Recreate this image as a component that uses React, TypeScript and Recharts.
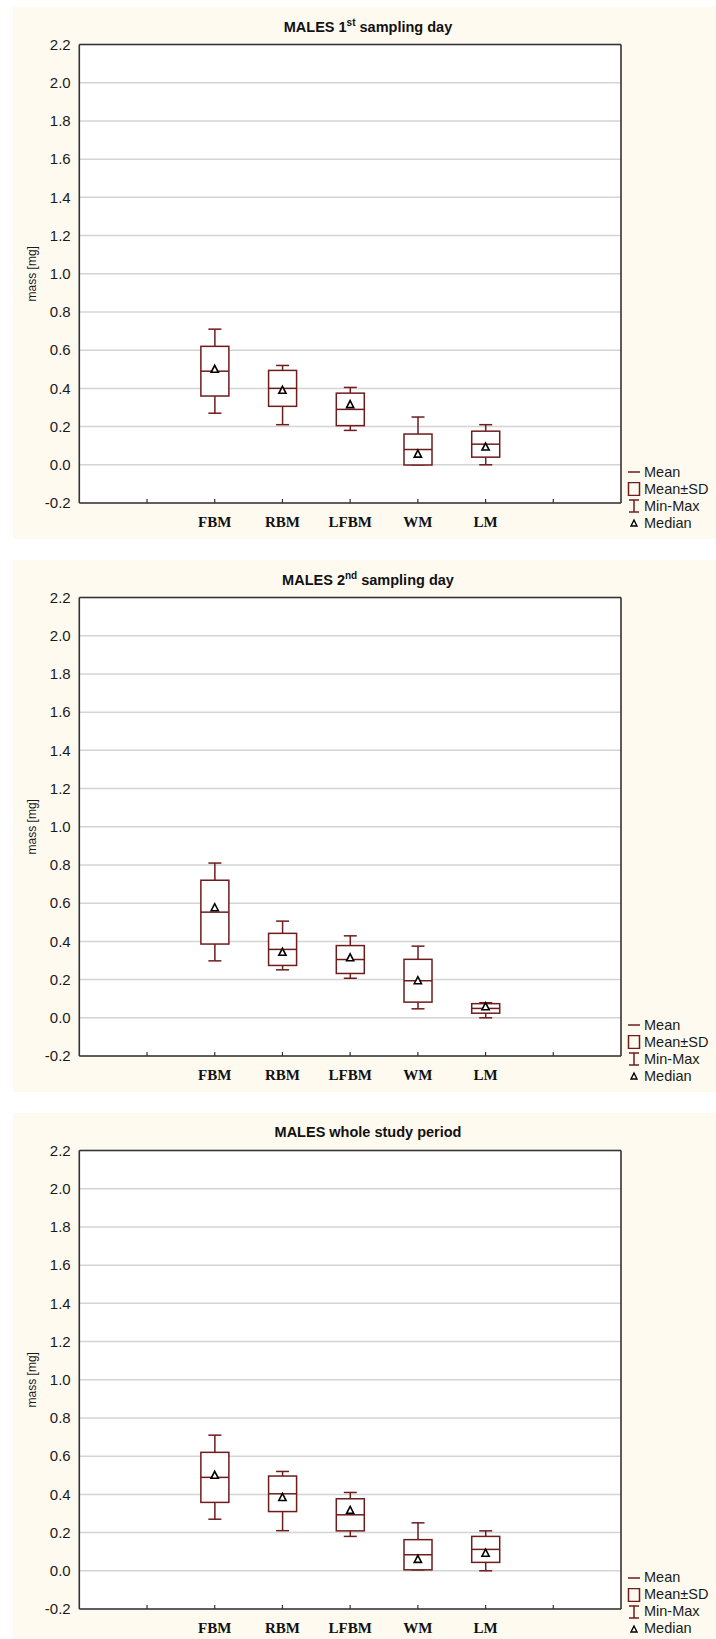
import type { ReactNode } from 'react';
import { Bar, CartesianGrid, ComposedChart, Scatter, XAxis, YAxis } from 'recharts';

const categories = ['FBM', 'RBM', 'LFBM', 'WM', 'LM'];
const yTicks = [-0.2, 0.0, 0.2, 0.4, 0.6, 0.8, 1.0, 1.2, 1.4, 1.6, 1.8, 2.0, 2.2];

// 1st sampling day
const day1Mean = [0.49, 0.4, 0.29, 0.08, 0.108];
const day1Sd = [0.13, 0.094, 0.085, 0.081, 0.068];
const day1Min = [0.27, 0.21, 0.18, 0.0, 0.0];
const day1Max = [0.71, 0.52, 0.405, 0.25, 0.21];
const day1Median = [0.5, 0.39, 0.315, 0.056, 0.093];

// 2nd sampling day
const day2Mean = [0.553, 0.358, 0.305, 0.194, 0.049];
const day2Sd = [0.167, 0.084, 0.073, 0.112, 0.025];
const day2Min = [0.298, 0.251, 0.207, 0.047, 0.0];
const day2Max = [0.81, 0.506, 0.429, 0.375, 0.079];
const day2Median = [0.576, 0.343, 0.314, 0.194, 0.058];

// whole study period
const wholeMean = [0.489, 0.403, 0.293, 0.084, 0.112];
const wholeSd = [0.131, 0.093, 0.084, 0.079, 0.068];
const wholeMin = [0.27, 0.21, 0.18, 0.005, 0.0];
const wholeMax = [0.71, 0.52, 0.41, 0.251, 0.209];
const wholeMedian = [0.5, 0.384, 0.316, 0.06, 0.092];

const CREAM = '#FEFAF0';
const BOX = '#6E1C1C';
const AXIS = '#333';
const GRID = '#D4D4D4';
const SANS = '"Liberation Sans", Arial, sans-serif';

function buildRows(mean: number[], sd: number[], min: number[], max: number[], median: number[]) {
  return [
    { name: 'padLeft' },
    ...categories.map((c, i) => ({
      name: c,
      range: [min[i], max[i]],
      mean: mean[i],
      sd: sd[i],
      median: median[i],
    })),
    { name: 'padRight' },
  ];
}

function BoxShape(props: any) {
  const { x, y, width, height, payload } = props;
  if (!payload || !payload.range || !Number.isFinite(y) || !Number.isFinite(height)) return null;
  const [lo, hi] = payload.range;
  const top = Math.min(y, y + height);
  const span = Math.abs(height);
  const py = (v: number) => top + (span * (hi - v)) / (hi - lo);
  const cx = x + width / 2;
  const boxTop = py(payload.mean + payload.sd);
  const boxBot = py(payload.mean - payload.sd);
  const meanY = py(payload.mean);
  const cap = 6.5;
  return (
    <g stroke={BOX} strokeWidth={1.5} fill="none">
      <line x1={cx} x2={cx} y1={top} y2={boxTop} />
      <line x1={cx} x2={cx} y1={boxBot} y2={top + span} />
      <line x1={cx - cap} x2={cx + cap} y1={top} y2={top} />
      <line x1={cx - cap} x2={cx + cap} y1={top + span} y2={top + span} />
      <rect x={x} y={boxTop} width={width} height={boxBot - boxTop} fill="#fff" />
      <line x1={x} x2={x + width} y1={meanY} y2={meanY} />
    </g>
  );
}

function MedianMark(props: any) {
  const { cx, cy } = props;
  if (!Number.isFinite(cx) || !Number.isFinite(cy)) return null;
  return (
    <path
      d={`M${cx},${cy - 4} L${cx + 3.6},${cy + 3} L${cx - 3.6},${cy + 3} Z`}
      fill="#fff"
      stroke="#000"
      strokeWidth={1.6}
    />
  );
}

function LegendBox() {
  const rows: [ReactNode, string][] = [
    [<line x1={1} x2={13} y1={7} y2={7} stroke={BOX} strokeWidth={1.5} />, 'Mean'],
    [<rect x={1.5} y={0.5} width={11} height={13} fill="none" stroke={BOX} strokeWidth={1.5} />, 'Mean±SD'],
    [
      <g stroke={BOX} strokeWidth={1.5}>
        <line x1={2} x2={12} y1={1} y2={1} />
        <line x1={7} x2={7} y1={1} y2={13} />
        <line x1={2} x2={12} y1={13} y2={13} />
      </g>,
      'Min-Max',
    ],
    [<path d="M7,4 L10,10 L4,10 Z" fill="#fff" stroke="#000" strokeWidth={1.4} />, 'Median'],
  ];
  return (
    <div style={{ position: 'absolute', left: 614, top: 456.5, fontFamily: SANS, fontSize: 14.5, lineHeight: '17px', color: '#1a1a1a' }}>
      {rows.map(([sym, label]) => (
        <div key={label} style={{ display: 'flex', alignItems: 'center', height: 17 }}>
          <svg width={14} height={14} style={{ marginRight: 3 }}>
            {sym}
          </svg>
          <span>{label}</span>
        </div>
      ))}
    </div>
  );
}

function Panel({ top, title, rows }: { top: number; title: ReactNode; rows: any[] }) {
  return (
    <div style={{ position: 'absolute', left: 13, top, width: 703, height: 532, background: CREAM }}>
      <div
        style={{
          position: 'absolute',
          left: 0,
          top: 11.5,
          width: 710,
          textAlign: 'center',
          fontFamily: SANS,
          fontWeight: 700,
          fontSize: 14.5,
          lineHeight: '17px',
          color: '#111',
        }}
      >
        {title}
      </div>
      <ComposedChart width={703} height={532} data={rows} margin={{ top: 36.5, right: 94, bottom: 6, left: 0 }}>
        <CartesianGrid vertical={false} stroke={GRID} strokeWidth={1.5} fill="#fff" fillOpacity={1} />
        <XAxis
          dataKey="name"
          type="category"
          padding={{ left: 33.86, right: 33.86 }}
          height={30}
          interval={0}
          tickSize={-4}
          tickMargin={17.3}
          tickLine={{ stroke: AXIS, strokeWidth: 1.2 }}
          axisLine={{ stroke: AXIS, strokeWidth: 1.6 }}
          tick={{ fontFamily: '"Liberation Serif", serif', fontWeight: 700, fontSize: 15, fill: '#111' }}
          tickFormatter={(v: string) => (categories.includes(v) ? v : '')}
        />
        <XAxis
          xAxisId="top"
          dataKey="name"
          type="category"
          orientation="top"
          padding={{ left: 33.86, right: 33.86 }}
          height={1}
          interval={0}
          tick={false}
          tickSize={-4}
          tickLine={{ stroke: AXIS, strokeWidth: 1.2 }}
          axisLine={{ stroke: AXIS, strokeWidth: 1.6 }}
        />
        <YAxis
          type="number"
          domain={[-0.2, 2.2]}
          ticks={yTicks}
          interval={0}
          width={66.3}
          tickSize={0}
          tickMargin={8.6}
          tickLine={false}
          axisLine={{ stroke: AXIS, strokeWidth: 1.6 }}
          tick={{ fontFamily: SANS, fontSize: 15, fill: '#1a1a1a' }}
          tickFormatter={(v: number) => v.toFixed(1)}
          label={{
            content: (p: any) => {
              const vb = p.viewBox || {};
              const cy = (vb.y ?? 0) + (vb.height ?? 0) / 2;
              return (
                <text
                  x={18.7}
                  y={cy}
                  transform={`rotate(-90 18.7 ${cy})`}
                  textAnchor="middle"
                  dominantBaseline="central"
                  fontFamily={SANS}
                  fontSize={12}
                  fill="#1a1a1a"
                >
                  mass [mg]
                </text>
              );
            },
          }}
        />
        <YAxis
          yAxisId="right"
          orientation="right"
          type="number"
          domain={[-0.2, 2.2]}
          ticks={yTicks}
          interval={0}
          width={1}
          tick={false}
          tickSize={3}
          tickLine={{ stroke: AXIS, strokeWidth: 1.2 }}
          axisLine={{ stroke: AXIS, strokeWidth: 1.6 }}
        />
        <Bar dataKey="range" barSize={28} shape={BoxShape} isAnimationActive={false} />
        <Scatter dataKey="median" shape={MedianMark} isAnimationActive={false} />
      </ComposedChart>
      <LegendBox />
    </div>
  );
}

export default function App() {
  const day1 = buildRows(day1Mean, day1Sd, day1Min, day1Max, day1Median);
  const day2 = buildRows(day2Mean, day2Sd, day2Min, day2Max, day2Median);
  const whole = buildRows(wholeMean, wholeSd, wholeMin, wholeMax, wholeMedian);
  return (
    <div style={{ position: 'absolute', left: 0, top: 0, width: 716, height: 1639, overflow: 'hidden', background: '#fff' }}>
      <Panel
        top={7}
        rows={day1}
        title={
          <>
            MALES 1<sup style={{ fontSize: 10, lineHeight: 0 }}>st</sup> sampling day
          </>
        }
      />
      <Panel
        top={560}
        rows={day2}
        title={
          <>
            MALES 2<sup style={{ fontSize: 10, lineHeight: 0 }}>nd</sup> sampling day
          </>
        }
      />
      <Panel top={1112.5} rows={whole} title="MALES whole study period" />
    </div>
  );
}
